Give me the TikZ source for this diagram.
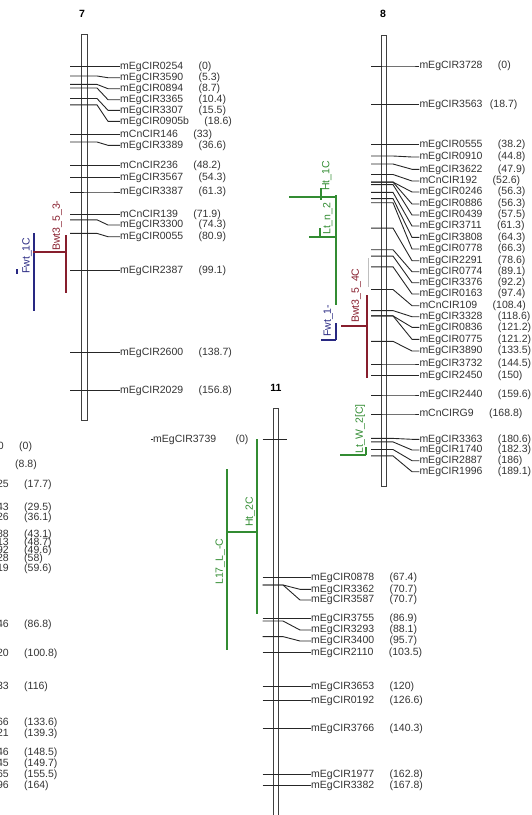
\documentclass[tikz,border=0pt]{standalone}
\usepackage{fontspec}
\setmainfont{Liberation Sans}
\usetikzlibrary{positioning}
\definecolor{qblue}{RGB}{40,40,130}
\definecolor{qred}{RGB}{135,30,45}
\definecolor{qgreen}{RGB}{50,140,50}
\begin{document}
\begin{tikzpicture}[x=1pt,y=-1pt,
    lbl/.style={inner sep=0pt,anchor=west,text=black!80,font=\fontsize{10.5}{11}\selectfont,text height=7.2pt,text depth=1.6pt},
    qlbl/.style={lbl,rotate=90},
    ttl/.style={inner sep=0pt,font=\fontsize{10.5}{12}\selectfont\bfseries},
    tick/.style={black!85,line width=0.9pt},
    chrom/.style={draw=black!75,line width=0.7pt,fill=white},
    qtl/.style={line width=1.6pt}]
\useasboundingbox (0,0) rectangle (532,815);
\clip (0,0) rectangle (532,815);

% chromosome 7
\node[ttl] (t7) at (82,14) {7};
\draw[chrom] (81,34) rectangle (87,420);
\foreach \my/\ly/\nm/\vl in {66.6/66.6/mEgCIR0254/0, 76/77.7/mEgCIR3590/5.3,
    84.4/88.7/mEgCIR0894/8.7, 88/99.7/mEgCIR3365/10.4, 98.5/110.3/mEgCIR3307/15.5,
    104.9/121.3/mEgCIR0905b/18.6, 134.4/134.4/mCnCIR146/33, 142/145.3/mEgCIR3389/36.6,
    165.5/165.5/mCnCIR236/48.2, 177.8/177.8/mEgCIR3567/54.3, 192/192/mEgCIR3387/61.3,
    214.6/214.6/mCnCIR139/71.9, 219.8/225/mEgCIR3300/74.3, 233.4/236.7/mEgCIR0055/80.9,
    270.6/270.6/mEgCIR2387/99.1, 352.6/352.6/mEgCIR2600/138.7, 390.4/390.4/mEgCIR2029/156.8}{
  \node[lbl] (a7-\nm) at (120,\ly) {\nm};
  \node[lbl,right=15pt of a7-\nm] (b7-\nm) {(\vl)};
  \draw[tick] (70,\my) -- (97,\my) -- (108,\ly) -- (a7-\nm.west);
}

% QTL on 7
\draw[qtl,qblue] (34,233) -- (34,311);
\draw[qtl,qblue] (17,269) -- (17,274);
\node[qlbl,text=qblue] (q-fwt1c) at (26.7,274) {Fwt\_1C};
\draw[qtl,qred] (66,235) -- (66,293);
\draw[qtl,qred] (33,252) -- (66,252);
\node[qlbl,text=qred] (q-bwt353) at (57,251) {Bwt3\_5\_3-};

% chromosome 8
\node[ttl] (t8) at (383,14) {8};
\draw[chrom] (381.7,35) rectangle (386.3,486.7);
\foreach \my/\ly/\nm/\vl in {66/66/mEgCIR3728/0, 144.5/144.5/mEgCIR0555/38.2,
    156/157/mEgCIR0910/44.8, 164/169.3/mEgCIR3622/47.9, 174.5/181/mCnCIR192/52.6,
    182.1/192/mEgCIR0246/56.3, 182.1/204/mEgCIR0886/56.3, 184.6/215/mEgCIR0439/57.5,
    192.4/226/mEgCIR3711/61.3, 198.6/237.3/mEgCIR3808/64.3, 202.7/249/mEgCIR0778/66.3,
    228.1/260.7/mEgCIR2291/78.6, 249.7/271.7/mEgCIR0774/89.1, 256.1/282.7/mEgCIR3376/92.2,
    266.8/294/mEgCIR0163/97.4, 289.5/305.7/mCnCIR109/108.4, 310.6/316.7/mEgCIR3328/118.6,
    315.9/327.3/mEgCIR0836/121.2, 315.9/339.3/mEgCIR0775/121.2, 341.3/351/mEgCIR3890/133.5,
    364/364/mEgCIR3732/144.5, 375.5/375.5/mEgCIR2450/150, 395/395/mEgCIR2440/159.6,
    414/414/mCnCIRG9/168.8, 438.4/439.3/mEgCIR3363/180.6, 441.9/450/mEgCIR1740/182.3,
    449.5/460.7/mEgCIR2887/186, 455.9/471.7/mEgCIR1996/189.1}{
  \node[lbl] (a8-\nm) at (419.3,\ly) {\nm};
  \node[lbl,right=15pt of a8-\nm] (b8-\nm) {(\vl)};
  \draw[tick] (371,\my) -- (393,\my) -- (412,\ly) -- (a8-\nm.west);
}
\node[lbl] (a8-mEgCIR3563) at (419.3,104.3) {mEgCIR3563};
\node[lbl,right=7pt of a8-mEgCIR3563] (b8-mEgCIR3563) {(18.7)};
\draw[tick] (371,104.3) -- (a8-mEgCIR3563.west);

% QTL on 8
\draw[qtl,qgreen] (336,195) -- (336,305);
\draw[qtl,qgreen] (289,197) -- (336,197);
\draw[qtl,qgreen] (321,188) -- (321,200);
\node[qlbl,text=qgreen] (q-ht1c) at (326.5,191) {Ht\_1C};
\draw[qtl,qgreen] (309,237) -- (336,237);
\draw[qtl,qgreen] (320,228) -- (320,237);
\node[qlbl,text=qgreen] (q-ltn2) at (327.5,235) {Lt\_n\_2};
\draw[qtl,qblue] (336,323) -- (336,340);
\draw[qtl,qblue] (321,340) -- (336,340);
\node[qlbl,text=qblue] (q-fwt1) at (328,337) {Fwt\_1-};
\draw[qtl,qred] (367,295) -- (367,378);
\draw[qtl,qred] (341,326) -- (367,326);
\node[qlbl,text=qred] (q-bwt354c) at (356,323) {Bwt3\_5\_4C};
\draw[black!25,line width=0.8pt] (368,258) -- (368,287);
\draw[qtl,qgreen] (366,447) -- (366,455);
\draw[qtl,qgreen] (340,455) -- (366,455);
\node[qlbl,text=qgreen] (q-ltw2c) at (360,454) {Lt\_W\_2[C]};

% chromosome 11
\node[ttl] (t11) at (276,388) {11};
\draw[chrom] (273.3,408.3) rectangle (278.7,830);
\node[lbl] (a11-mEgCIR3739) at (153,439.3) {mEgCIR3739};
\node[lbl,right=19pt of a11-mEgCIR3739] (b11-mEgCIR3739) {(0)};
\draw[tick] (150.5,439.3) -- (a11-mEgCIR3739.west);
\draw[tick] (262.7,439.3) -- (286.7,439.3);
\foreach \my/\ly/\nm/\vl in {577.5/577.5/mEgCIR0878/67.4, 585/589.3/mEgCIR3362/70.7,
    585/600/mEgCIR3587/70.7, 618.7/618.7/mEgCIR3755/86.9, 621/630/mEgCIR3293/88.1,
    636.6/641/mEgCIR3400/95.7, 652.5/652.5/mEgCIR2110/103.5, 686.7/686.7/mEgCIR3653/120,
    700.2/700.2/mEgCIR0192/126.6, 728.4/728.4/mEgCIR3766/140.3, 774.6/774.6/mEgCIR1977/162.8,
    785.5/785.5/mEgCIR3382/167.8}{
  \node[lbl] (a11-\nm) at (311,\ly) {\nm};
  \node[lbl,right=15pt of a11-\nm] (b11-\nm) {(\vl)};
  \draw[tick] (262.7,\my) -- (283,\my) -- (300,\ly) -- (a11-\nm.west);
}

% QTL on 11
\draw[qtl,qgreen] (257,439) -- (257,614);
\draw[qtl,qgreen] (227,532) -- (257,532);
\node[qlbl,text=qgreen] (q-ht2c) at (250,527) {Ht\_2C};
\draw[qtl,qgreen] (227,469) -- (227,650);
\node[qlbl,text=qgreen] (q-l17) at (220,585) {L17\_L\_-C};

% cut chromosome at the left edge
\node[lbl] (b0-0) at (15,465) {(8.8)};
\foreach \y/\fr/\vl/\vx [count=\i] in {446.7/0/0/19, 484.3/25/17.7/24, 507.7/43/29.5/24,
    517.7/26/36.1/24, 535/88/43.1/24, 543/13/48.7/24, 550.5/92/49.6/24, 558.5/28/58/24,
    569/19/59.6/24, 624.3/46/86.8/24, 653.3/20/100.8/24, 686.7/33/116/24, 722.7/66/133.6/24,
    734/21/139.3/24, 752.3/46/148.5/24, 763.3/45/149.7/24, 774.3/65/155.5/24, 785.7/96/164/24}{
  \node[lbl] (b0-\i) at (\vx,\y) {(\vl)};
  \node[lbl,anchor=east,left=15pt of b0-\i] (a0-\i) {\fr};
}
\end{tikzpicture}
\end{document}
